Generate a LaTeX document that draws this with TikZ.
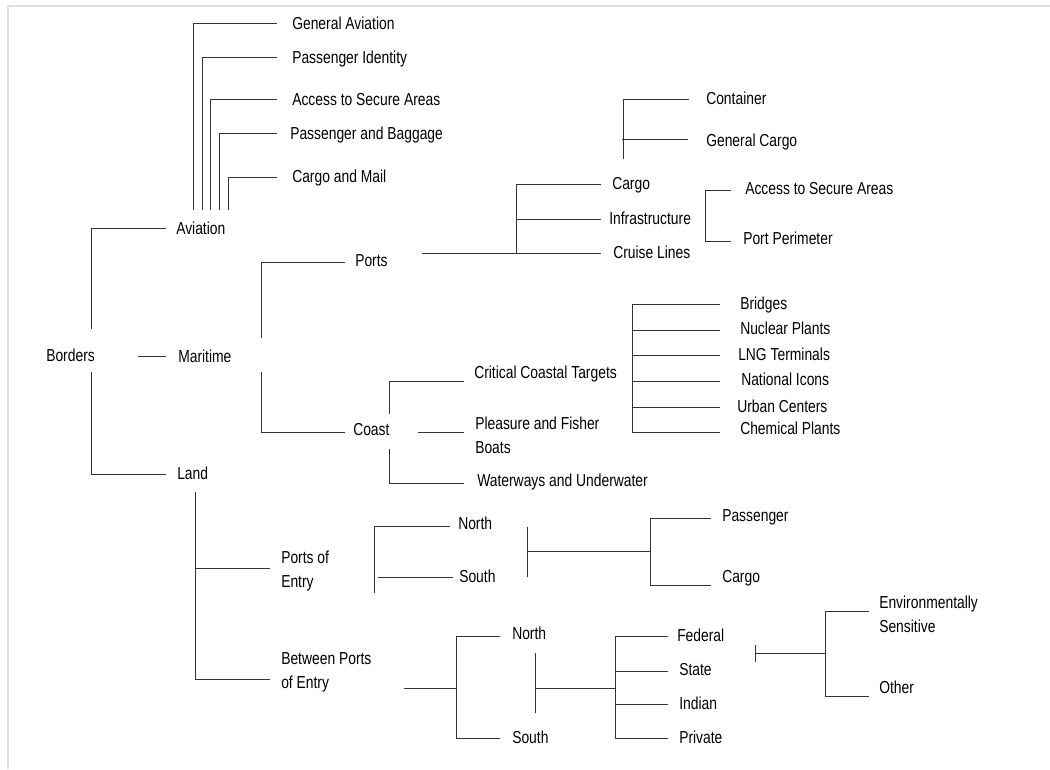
\documentclass[tikz,border=0pt]{standalone}
\usepackage{fontspec}
\setmainfont{Liberation Sans}[FakeStretch=0.8]
\begin{document}
\begin{tikzpicture}[x=0.75pt,y=-0.75pt,
  lbl/.style={anchor=base west,inner sep=0pt,font=\fontsize{13pt}{18pt}\selectfont},
  lbltwo/.style={anchor=north west,inner sep=0pt,align=left,font=\fontsize{13pt}{18pt}\selectfont},
  conn/.style={draw=black!80,line width=0.75pt},
  frameline/.style={draw=black!13,line width=1.5pt}]
\useasboundingbox (0,0) rectangle (1050,769);

% page frame (top and left edges)
\coordinate (fr1) at (7.5,769);
\coordinate (fr2) at (7.5,6);
\coordinate (fr3) at (1050,6);
\draw[frameline] (fr1) -- (fr2) -- (fr3);

% ---------------- labels ----------------
\node[lbl] (bord) at (46,361) {Borders};
\node[lbl] (avia) at (176,234) {Aviation};
\node[lbl] (mari) at (178,362) {Maritime};
\node[lbl] (land) at (177,479) {Land};

\node[lbl] (gav) at (292,29) {General Aviation};
\node[lbl] (pid) at (292,63) {Passenger Identity};
\node[lbl] (asa) at (292,105) {Access to Secure Areas};
\node[lbl] (pab) at (290,139) {Passenger and Baggage};
\node[lbl] (cam) at (292,182) {Cargo and Mail};

\node[lbl] (ports) at (355,266) {Ports};
\node[lbl] (coast) at (353,435) {Coast};

\node[lbl] (pcargo) at (612,189) {Cargo};
\node[lbl] (infra) at (609,224) {Infrastructure};
\node[lbl] (cruise) at (613,258) {Cruise Lines};
\node[lbl] (pasa) at (745,194) {Access to Secure Areas};
\node[lbl] (pper) at (743,244) {Port Perimeter};
\node[lbl] (cont) at (706,104) {Container};
\node[lbl] (gcar) at (706,146) {General Cargo};

\node[lbl] (crit) at (474,378) {Critical Coastal Targets};
\node[lbltwo] (plea) at (475,416.5) {Pleasure and Fisher\\Boats};
\node[lbl] (water) at (477,486) {Waterways and Underwater};

\node[lbl] (brid) at (740,309) {Bridges};
\node[lbl] (nucl) at (740,334) {Nuclear Plants};
\node[lbl] (lng) at (738,360) {LNG Terminals};
\node[lbl] (nati) at (741,385) {National Icons};
\node[lbl] (urba) at (737,412) {Urban Centers};
\node[lbl] (chem) at (740,434) {Chemical Plants};

\node[lbltwo] (poe) at (281,550.5) {Ports of\\Entry};
\node[lbltwo] (bpoe) at (281,652.5) {Between Ports\\of Entry};

\node[lbl] (pnorth) at (458,529) {North};
\node[lbl] (psouth) at (459,582) {South};
\node[lbl] (pass) at (722,521) {Passenger};
\node[lbl] (lcargo) at (722,582) {Cargo};

\node[lbl] (bnorth) at (512,639) {North};
\node[lbl] (bsouth) at (512,743) {South};
\node[lbl] (fede) at (677,641) {Federal};
\node[lbl] (stat) at (679,675) {State};
\node[lbl] (indi) at (679,709) {Indian};
\node[lbl] (priv) at (679,743) {Private};
\node[lbltwo] (envi) at (879,595.5) {Environmentally\\Sensitive};
\node[lbl] (othe) at (879,693) {Other};

% ---------------- Aviation branch ----------------
\coordinate (av1) at (193,23);  \coordinate (av1e) at (277,23);  \coordinate (av1b) at (193,210);
\coordinate (av2) at (202,57);  \coordinate (av2e) at (277,57);  \coordinate (av2b) at (202,210);
\coordinate (av3) at (210,99);  \coordinate (av3e) at (277,99);  \coordinate (av3b) at (210,210);
\coordinate (av4) at (219,133); \coordinate (av4e) at (277,133); \coordinate (av4b) at (219,210);
\coordinate (av5) at (228,177); \coordinate (av5e) at (277,177); \coordinate (av5b) at (228,210);
\draw[conn] (av1e) -- (av1) -- (av1b);
\draw[conn] (av2e) -- (av2) -- (av2b);
\draw[conn] (av3e) -- (av3) -- (av3b);
\draw[conn] (av4e) -- (av4) -- (av4b);
\draw[conn] (av5e) -- (av5) -- (av5b);

% ---------------- Borders root ----------------
\coordinate (bo1) at (166,228); \coordinate (bo2) at (91,228); \coordinate (bo3) at (91,329);
\coordinate (bo4) at (138,356); \coordinate (bo5) at (166,356);
\coordinate (bo6) at (91,372);  \coordinate (bo7) at (91,474); \coordinate (bo8) at (166,474);
\draw[conn] (bo1) -- (bo2) -- (bo3);
\draw[conn] (bo4) -- (bo5);
\draw[conn] (bo6) -- (bo7) -- (bo8);

% ---------------- Maritime ----------------
\coordinate (ma1) at (345,262); \coordinate (ma2) at (261,262); \coordinate (ma3) at (261,338);
\coordinate (ma4) at (261,372); \coordinate (ma5) at (261,432); \coordinate (ma6) at (345,432);
\draw[conn] (ma1) -- (ma2) -- (ma3);
\draw[conn] (ma4) -- (ma5) -- (ma6);

% Ports
\coordinate (po0) at (422,253); \coordinate (po1) at (516,253); \coordinate (po1e) at (601,253);
\coordinate (po2) at (516,219); \coordinate (po2e) at (601,219);
\coordinate (po3) at (516,184); \coordinate (po3e) at (601,184);
\draw[conn] (po0) -- (po1e);
\draw[conn] (po1) -- (po3) -- (po3e);
\draw[conn] (po2) -- (po2e);

% Cargo types
\coordinate (cg1) at (689,99); \coordinate (cg2) at (623,99); \coordinate (cg3) at (623,159);
\coordinate (cg4) at (622,139); \coordinate (cg5) at (688,139);
\draw[conn] (cg1) -- (cg2) -- (cg3);
\draw[conn] (cg4) -- (cg5);

% Infrastructure
\coordinate (in1) at (731,190); \coordinate (in2) at (705,190);
\coordinate (in3) at (705,241); \coordinate (in4) at (731,241);
\draw[conn] (in1) -- (in2) -- (in3) -- (in4);

% Coast
\coordinate (co1) at (464,381); \coordinate (co2) at (389,381); \coordinate (co3) at (389,414);
\coordinate (co4) at (418,432); \coordinate (co5) at (464,432);
\coordinate (co6) at (389,449); \coordinate (co7) at (389,483); \coordinate (co8) at (464,483);
\draw[conn] (co1) -- (co2) -- (co3);
\draw[conn] (co4) -- (co5);
\draw[conn] (co6) -- (co7) -- (co8);

% Critical coastal targets
\coordinate (ct1) at (632,304); \coordinate (ct6) at (632,432);
\draw[conn] (ct1) -- (ct6);
\foreach \yy [count=\i] in {304,330,355,381,407,432}{
  \coordinate (cta\i) at (632,\yy);
  \coordinate (ctb\i) at (720,\yy);
  \draw[conn] (cta\i) -- (ctb\i);
}

% ---------------- Land ----------------
\coordinate (la1) at (195,492); \coordinate (la2) at (195,679);
\coordinate (la3) at (195,568); \coordinate (la4) at (270,568);
\coordinate (la5) at (270,679);
\draw[conn] (la1) -- (la2) -- (la5);
\draw[conn] (la3) -- (la4);

% Ports of entry
\coordinate (pe1) at (450,526); \coordinate (pe2) at (374,526); \coordinate (pe3) at (374,593);
\coordinate (pe4) at (378,577); \coordinate (pe5) at (453,577);
\draw[conn] (pe1) -- (pe2) -- (pe3);
\draw[conn] (pe4) -- (pe5);
\coordinate (pf1) at (527,527); \coordinate (pf2) at (527,577);
\coordinate (pf3) at (527,551); \coordinate (pf4) at (650,551);
\coordinate (pf5) at (711,518); \coordinate (pf6) at (650,518);
\coordinate (pf7) at (650,585); \coordinate (pf8) at (711,585);
\draw[conn] (pf1) -- (pf2);
\draw[conn] (pf3) -- (pf4);
\draw[conn] (pf5) -- (pf6) -- (pf7) -- (pf8);

% Between ports of entry
\coordinate (bp1) at (404,688); \coordinate (bp2) at (456,688);
\coordinate (bp3) at (500,636); \coordinate (bp4) at (456,636);
\coordinate (bp5) at (456,738); \coordinate (bp6) at (500,738);
\draw[conn] (bp1) -- (bp2);
\draw[conn] (bp3) -- (bp4) -- (bp5) -- (bp6);
\coordinate (bq1) at (535,653); \coordinate (bq2) at (535,713);
\coordinate (bq3) at (535,688); \coordinate (bq4) at (615,688);
\coordinate (bq5) at (615,636); \coordinate (bq6) at (615,738);
\draw[conn] (bq1) -- (bq2);
\draw[conn] (bq3) -- (bq4);
\draw[conn] (bq5) -- (bq6);
\foreach \yy [count=\i] in {636,671,704,738}{
  \coordinate (bl\i) at (615,\yy);
  \coordinate (br\i) at (668,\yy);
  \draw[conn] (bl\i) -- (br\i);
}

% Environmental split
\coordinate (en1) at (755,645); \coordinate (en2) at (755,662);
\coordinate (en3) at (755,653); \coordinate (en4) at (825,653);
\coordinate (en5) at (869,611); \coordinate (en6) at (825,611);
\coordinate (en7) at (825,696); \coordinate (en8) at (869,696);
\draw[conn] (en1) -- (en2);
\draw[conn] (en3) -- (en4);
\draw[conn] (en5) -- (en6) -- (en7) -- (en8);

\end{tikzpicture}
\end{document}
